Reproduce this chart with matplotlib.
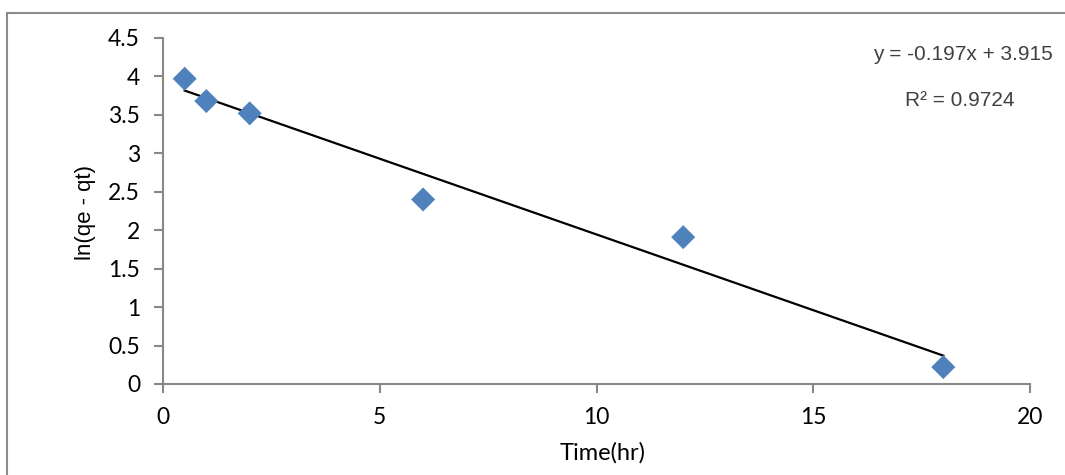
import matplotlib.pyplot as plt
from matplotlib.patches import Rectangle
import numpy as np

# Kinetic data: pseudo-first-order fit
time_hr = [0.5, 1, 2, 6, 12, 18]
ln_qe_qt = [3.97, 3.68, 3.52, 2.40, 1.91, 0.22]
slope = -0.197
intercept = 3.915
r_squared = 0.9724

x_ticks = [0, 5, 10, 15, 20]
y_ticks = [0, 0.5, 1, 1.5, 2, 2.5, 3, 3.5, 4, 4.5]

W, H = 1065, 475
fig = plt.figure(figsize=(W / 100, H / 100), dpi=100)
fig.patch.set_facecolor("white")

# Chart frame
fig.patches.append(Rectangle((7 / W, -0.05), 1.2, 1 - 13 / H + 0.05,
                             transform=fig.transFigure, fill=False,
                             edgecolor="#8c8c8c", linewidth=1.5))

ax_left, ax_right, ax_top, ax_bottom = 163, 1030, 38, 384
ax = fig.add_axes([ax_left / W, 1 - ax_bottom / H,
                   (ax_right - ax_left) / W, (ax_bottom - ax_top) / H])

tick_font = "Lato"
axis_grey = "#888888"

ax.scatter(time_hr, ln_qe_qt, marker="D", s=150, color="#4F81BD",
           edgecolors="none", zorder=3, clip_on=False)

xs = np.array([time_hr[0], time_hr[-1]])
ax.plot(xs, slope * xs + intercept, color="black", linewidth=1.6, zorder=2)

ax.set_xlim(0, 20)
ax.set_ylim(0, 4.5)
ax.set_xticks(x_ticks)
ax.set_yticks(y_ticks)
ax.set_xticklabels([f"{v:g}" for v in x_ticks], fontfamily=tick_font, fontsize=16.5)
ax.set_yticklabels([f"{v:g}" for v in y_ticks], fontfamily=tick_font, fontsize=16.5)

for side in ("top", "right"):
    ax.spines[side].set_visible(False)
for side in ("left", "bottom"):
    ax.spines[side].set_color(axis_grey)
    ax.spines[side].set_linewidth(1.5)
ax.tick_params(axis="both", direction="out", length=6.5, width=1.5,
               color=axis_grey, labelcolor="black")
ax.tick_params(axis="x", pad=10)
ax.tick_params(axis="y", pad=10)

ax.set_xlabel("Time(hr)", fontfamily=tick_font, fontsize=17)
ax.set_ylabel("ln(qe - qt)", fontfamily="Liberation Sans", fontsize=16)
ax.xaxis.set_label_coords((603 - ax_left) / (ax_right - ax_left),
                          (ax_bottom - 453) / (ax_bottom - ax_top))
ax.yaxis.set_label_coords((85 - ax_left) / (ax_right - ax_left),
                          (ax_bottom - 213) / (ax_bottom - ax_top))
ax.xaxis.label.set_va("center")
ax.yaxis.label.set_va("center")

fig.text(963 / W, 1 - 55 / H, f"y = {slope}x + {intercept}",
         ha="center", va="center", fontfamily="Liberation Sans", fontsize=15,
         color="#404040")
fig.text(960 / W, 1 - 100 / H, f"R² = {r_squared}", ha="center", va="center",
         fontfamily="Liberation Sans", fontsize=15, color="#404040")

fig.savefig("out.png", dpi=100, facecolor="white")
